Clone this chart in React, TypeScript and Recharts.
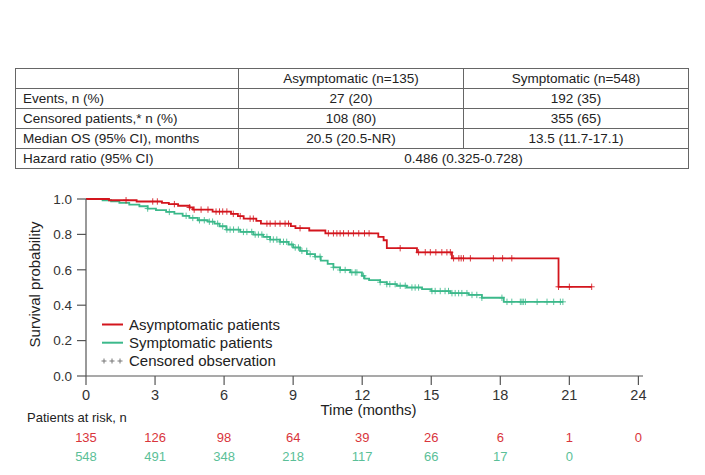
import React from 'react';
import { ComposedChart, Line, XAxis, YAxis } from 'recharts';

const RED = '#d3151d';
const GREEN = '#3cb98b';
const RED_TXT = '#d9353c';
const GREEN_TXT = '#5bbf98';
const AXIS = '#555555';
const FONT = '"Liberation Sans", Arial, Helvetica, sans-serif';

// ---- summary table ----
const tableHeader = ['', 'Asymptomatic (n=135)', 'Symptomatic (n=548)'];
const rowLabels = ['Events, n (%)', 'Censored patients,* n (%)', 'Median OS (95% CI), months'];
const asymValues = ['27 (20)', '108 (80)', '20.5 (20.5-NR)'];
const symValues = ['192 (35)', '355 (65)', '13.5 (11.7-17.1)'];
const hazardLabel = 'Hazard ratio (95% CI)';
const hazardRatio = '0.486 (0.325-0.728)';

// ---- axes ----
const timeTicks = [0, 3, 6, 9, 12, 15, 18, 21, 24];
const survTicks = [0, 0.2, 0.4, 0.6, 0.8, 1.0];
const riskAsym = ['135', '126', '98', '64', '39', '26', '6', '1', '0'];
const riskSym = ['548', '491', '348', '218', '117', '66', '17', '0', ''];

// ---- Kaplan-Meier: asymptomatic ----
const asymStepTimes = [0, 1.0, 2.2, 3.3, 3.6, 4.0, 4.5, 4.65, 5.5, 6.3, 6.6, 6.85, 7.4, 7.6, 8.9, 9.1, 9.7, 10.4, 12.7, 12.93, 13.07, 14.38, 15.9, 20.53];
const asymStepSurv = [1.0, 0.993, 0.986, 0.978, 0.971, 0.962, 0.952, 0.94, 0.929, 0.916, 0.903, 0.889, 0.876, 0.861, 0.847, 0.835, 0.822, 0.806, 0.786, 0.767, 0.722, 0.699, 0.665, 0.504];
const asymCensorTimes = [1.74, 2.9, 3.1, 3.84, 4.5, 4.7, 5.0, 5.3, 5.65, 5.8, 5.94, 6.12, 6.4, 6.7, 7.13, 7.27, 7.86, 8.0, 8.22, 8.43, 8.65, 8.8, 9.3, 10.53, 10.75, 10.9, 11.04, 11.19, 11.4, 11.62, 11.85, 12.1, 12.3, 13.65, 14.45, 14.74, 14.96, 15.2, 15.46, 15.68, 15.83, 15.97, 16.2, 16.3, 16.4, 16.7, 17.7, 18.1, 18.5, 20.53, 21.0, 21.97];

// ---- Kaplan-Meier: symptomatic ----
const symStepTimes = [0, 0.72, 1.09, 1.45, 1.88, 2.32, 2.68, 3.04, 3.48, 3.84, 4.2, 4.49, 4.86, 5.29, 5.58, 5.8, 6.1, 6.7, 7.27, 7.7, 8.0, 8.43, 8.8, 9.0, 9.3, 9.6, 9.95, 10.2, 10.5, 10.75, 11.04, 11.48, 11.99, 12.1, 12.3, 12.78, 13.07, 13.5, 13.94, 14.6, 15.0, 15.83, 16.62, 17.2, 18.15];
const symStepSurv = [1.0, 0.993, 0.987, 0.978, 0.968, 0.959, 0.946, 0.937, 0.927, 0.917, 0.905, 0.893, 0.88, 0.872, 0.861, 0.846, 0.827, 0.814, 0.799, 0.786, 0.771, 0.758, 0.743, 0.726, 0.707, 0.689, 0.674, 0.652, 0.633, 0.614, 0.599, 0.585, 0.566, 0.55, 0.542, 0.53, 0.519, 0.51, 0.5, 0.491, 0.48, 0.468, 0.458, 0.442, 0.419];
const symCensorTimes = [2.68, 3.62, 4.35, 4.64, 4.93, 5.14, 5.36, 5.5, 5.72, 5.94, 6.12, 6.26, 6.41, 6.62, 6.84, 6.99, 7.2, 7.35, 7.49, 7.64, 7.86, 8.0, 8.14, 8.29, 8.43, 8.58, 8.72, 8.94, 9.09, 9.23, 9.38, 9.59, 9.74, 9.96, 10.17, 10.75, 11.04, 11.26, 11.55, 11.7, 11.77, 12.06, 12.78, 13.07, 13.2, 13.43, 13.65, 13.87, 14.16, 14.3, 14.45, 15.03, 15.17, 15.39, 15.6, 15.75, 15.9, 16.04, 16.19, 16.33, 16.55, 16.77, 16.98, 17.2, 18.07, 18.29, 18.5, 18.87, 18.94, 19.0, 19.09, 19.6, 20.03, 20.32, 20.61, 20.72];

type Pt = { t: number; s: number; c: boolean };

function buildKM(times: number[], surv: number[], censors: number[]): Pt[] {
  const pts: Pt[] = times.map((t, i) => ({ t, s: surv[i], c: false }));
  censors.forEach((ct) => {
    let s = surv[0];
    for (let i = 0; i < times.length; i++) if (times[i] <= ct) s = surv[i];
    pts.push({ t: ct, s, c: true });
  });
  pts.sort((a, b) => a.t - b.t || (a.c === b.c ? 0 : a.c ? 1 : -1));
  return pts;
}

const asymData = buildKM(asymStepTimes, asymStepSurv, asymCensorTimes);
const symData = buildKM(symStepTimes, symStepSurv, symCensorTimes);
// anchor rows so the at-risk axes share the time scale
const riskAnchor = timeTicks.map((t) => ({ t, s: 0 }));

const makeCensorDot = (color: string) => (props: any) => {
  const { cx, cy, payload, index } = props;
  if (!payload || !payload.c || cx == null || cy == null) return <g key={`d${index}`} />;
  return (
    <g key={`d${index}`}>
      <line x1={cx} x2={cx} y1={cy - 3.2} y2={cy + 3.2} stroke={color} strokeWidth={1} strokeOpacity={0.85} />
      <line x1={cx - 3} x2={cx + 3} y1={cy} y2={cy} stroke={color} strokeWidth={1} strokeOpacity={0.85} />
    </g>
  );
};

const MainTick = (props: any) => {
  const { x, y, payload } = props;
  return (
    <text x={x} y={y} dy={14.5} textAnchor="middle" fontSize={14.5} fill="#333" fontFamily={FONT}>
      {payload.value}
    </text>
  );
};

const makeRiskTick = (values: string[], color: string) => (props: any) => {
  const { x, y, payload } = props;
  const i = timeTicks.indexOf(payload.value);
  return (
    <text x={x} y={y} dy={14} textAnchor="middle" fontSize={13} fill={color} fontFamily={FONT}>
      {i >= 0 ? values[i] : ''}
    </text>
  );
};

const cellBase: React.CSSProperties = {
  border: '1px solid #666',
  padding: 0,
  height: 19,
  lineHeight: '19px',
  fontSize: 13.5,
  color: '#222',
  whiteSpace: 'nowrap',
};

export default function App() {
  return (
    <div style={{ position: 'absolute', left: 0, top: 0, width: 705, height: 475, background: '#fff', fontFamily: FONT, overflow: 'hidden' }}>
      <table
        style={{ position: 'absolute', left: 15, top: 68, width: 673, borderCollapse: 'collapse', tableLayout: 'fixed', fontFamily: FONT }}
      >
        <colgroup>
          <col style={{ width: 223 }} />
          <col style={{ width: 225 }} />
          <col style={{ width: 225 }} />
        </colgroup>
        <tbody>
          <tr>
            {tableHeader.map((h, i) => (
              <td key={i} style={{ ...cellBase, textAlign: 'center' }}>{h}</td>
            ))}
          </tr>
          {rowLabels.map((r, i) => (
            <tr key={r}>
              <td style={{ ...cellBase, textAlign: 'left', paddingLeft: 7 }}>{r}</td>
              <td style={{ ...cellBase, textAlign: 'center' }}>{asymValues[i]}</td>
              <td style={{ ...cellBase, textAlign: 'center' }}>{symValues[i]}</td>
            </tr>
          ))}
          <tr>
            <td style={{ ...cellBase, textAlign: 'left', paddingLeft: 7 }}>{hazardLabel}</td>
            <td colSpan={2} style={{ ...cellBase, textAlign: 'center' }}>{hazardRatio}</td>
          </tr>
        </tbody>
      </table>

      <div style={{ position: 'absolute', left: 0, top: 0 }}>
        <ComposedChart width={705} height={475} margin={{ top: 199, right: 62, left: 0, bottom: 9 }}>
          <XAxis
            xAxisId="main"
            dataKey="t"
            type="number"
            domain={[0, 24.2]}
            ticks={timeTicks}
            interval={0}
            tickSize={9}
            tickMargin={0}
            height={52}
            stroke={AXIS}
            axisLine={{ stroke: AXIS, strokeWidth: 1.2 }}
            tickLine={{ stroke: AXIS, strokeWidth: 1.2 }}
            tick={<MainTick />}
            label={(p: any) => {
              const vb = p.viewBox || { x: 86, y: 376, width: 557 };
              return (
                <text x={vb.x + vb.width / 2 + 4} y={vb.y + 39.2} textAnchor="middle" fontSize={15} fill="#222" fontFamily={FONT}>
                  Time (months)
                </text>
              );
            }}
          />
          <XAxis
            xAxisId="riskA"
            dataKey="t"
            type="number"
            domain={[0, 24.2]}
            ticks={timeTicks}
            interval={0}
            axisLine={false}
            tickLine={false}
            tickSize={0}
            tickMargin={0}
            height={19}
            tick={makeRiskTick(riskAsym, RED_TXT)}
          />
          <XAxis
            xAxisId="riskS"
            dataKey="t"
            type="number"
            domain={[0, 24.2]}
            ticks={timeTicks}
            interval={0}
            axisLine={false}
            tickLine={false}
            tickSize={0}
            tickMargin={0}
            height={19}
            tick={makeRiskTick(riskSym, GREEN_TXT)}
          />
          <YAxis
            type="number"
            domain={[0, 1]}
            ticks={survTicks}
            interval={0}
            width={86}
            tickSize={9}
            tickMargin={5}
            axisLine={{ stroke: AXIS, strokeWidth: 1.2 }}
            tickLine={{ stroke: AXIS, strokeWidth: 1.2 }}
            tick={{ fontSize: 13.5, fill: '#333', fontFamily: FONT }}
            tickFormatter={(v: number) => v.toFixed(1)}
            label={(p: any) => {
              const vb = p.viewBox || { y: 199, height: 177 };
              const cy = vb.y + vb.height / 2 - 3;
              return (
                <text x={40} y={cy} transform={`rotate(-90, 40, ${cy})`} textAnchor="middle" fontSize={15} fill="#222" fontFamily={FONT}>
                  Survival probability
                </text>
              );
            }}
          />
          <Line xAxisId="riskA" data={riskAnchor} dataKey="s" stroke="none" strokeOpacity={0} dot={false} activeDot={false} isAnimationActive={false} legendType="none" />
          <Line xAxisId="riskS" data={riskAnchor} dataKey="s" stroke="none" strokeOpacity={0} dot={false} activeDot={false} isAnimationActive={false} legendType="none" />
          <Line
            xAxisId="main"
            data={symData}
            dataKey="s"
            type="stepAfter"
            stroke={GREEN}
            strokeWidth={1.8}
            dot={makeCensorDot(GREEN)}
            activeDot={false}
            isAnimationActive={false}
          />
          <Line
            xAxisId="main"
            data={asymData}
            dataKey="s"
            type="stepAfter"
            stroke={RED}
            strokeWidth={1.8}
            dot={makeCensorDot(RED)}
            activeDot={false}
            isAnimationActive={false}
          />
        </ComposedChart>
      </div>

      <svg width={705} height={475} style={{ position: 'absolute', left: 0, top: 0, pointerEvents: 'none' }}>
        <line x1={102} x2={123} y1={324.5} y2={324.5} stroke={RED} strokeWidth={2} />
        <text x={129} y={329.5} fontSize={15} fill="#222" fontFamily={FONT}>Asymptomatic patients</text>
        <line x1={102} x2={123} y1={342.7} y2={342.7} stroke={GREEN} strokeWidth={2} />
        <text x={129} y={347.7} fontSize={15} fill="#222" fontFamily={FONT}>Symptomatic patients</text>
        {[104, 112, 120].map((px) => (
          <g key={px}>
            <line x1={px} x2={px} y1={358.5} y2={363.5} stroke="#777" strokeWidth={1} />
            <line x1={px - 2.5} x2={px + 2.5} y1={361} y2={361} stroke="#777" strokeWidth={1} />
          </g>
        ))}
        <text x={129} y={366} fontSize={15} fill="#222" fontFamily={FONT}>Censored observation</text>
        <text x={27} y={422} fontSize={13} fill="#222" fontFamily={FONT}>Patients at risk, n</text>
      </svg>
    </div>
  );
}
